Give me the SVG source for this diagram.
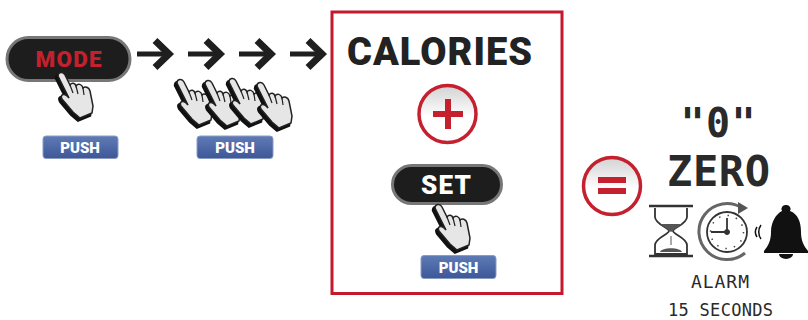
<svg xmlns="http://www.w3.org/2000/svg" xmlns:xlink="http://www.w3.org/1999/xlink" width="808" height="320" viewBox="0 0 808 320">
<style>
.pill{fill:#1d1d1d;stroke:#777;stroke-width:3}
.t{font-family:Roboto,"Liberation Sans",sans-serif;font-weight:900;text-anchor:middle}
.lcd{font-family:"DejaVu Sans Mono","Liberation Mono",monospace;fill:#2a2a2a;text-anchor:middle}
.badge{fill:url(#blue);stroke:#8a9cc4;stroke-width:1}
.pt{font-family:Roboto,"Liberation Sans",sans-serif;font-weight:900;font-size:15px;fill:#fff;text-anchor:middle}
.arrow{fill:none;stroke:#1f1f1f;stroke-width:5}
.disc{fill:url(#disc);stroke:#c4202e;stroke-width:3.5}
.red{fill:#c4202e}
</style>
<defs>
<linearGradient id="blue" x1="0" y1="0" x2="0" y2="1"><stop offset="0" stop-color="#5f7bb5"/><stop offset="1" stop-color="#3d5798"/></linearGradient>
<linearGradient id="disc" x1="0" y1="0" x2="0" y2="1"><stop offset="0" stop-color="#d2d2d2"/><stop offset=".55" stop-color="#fff"/></linearGradient>
<g id="hand">
<path d="M0,3C0,-1 5,-2 7,2L12,12C14,9 17,10 18,13C20,10 24,11 25,15C27,13 31,14 32,18L35,33L34,40L22,45L15,39L4,26C2,22 5,20 9,23L11,25Z" fill="#111" stroke="#111" stroke-width="2.500" transform="translate(-2,2.500)"/>
<path d="M0,3C0,-1 5,-2 7,2L12,12C14,9 17,10 18,13C20,10 24,11 25,15C27,13 31,14 32,18L35,33L34,40L22,45L15,39L4,26C2,22 5,20 9,23L11,25Z" fill="#e6e6e6" stroke="#222" stroke-width="1.500"/>
<path d="M12,12L15,20M18,13L20,21M25,15L26,22" fill="none" stroke="#222" stroke-width="1.200"/>
</g>
<g id="arr"><path class="arrow" d="M0,15.500H33"/><path d="M18,2L32,15.500L18,29" fill="none" stroke="#1f1f1f" stroke-width="7"/></g>
</defs>
<rect width="808" height="320" fill="#fff"/>
<g id="connectors">
<use xlink:href="#arr" href="#arr" x="137" y="38.500"/>
<use xlink:href="#arr" href="#arr" x="188" y="38.500"/>
<use xlink:href="#arr" href="#arr" x="239" y="38.500"/>
<use xlink:href="#arr" href="#arr" x="290" y="38.500"/>
</g>
<g id="mode">
<rect class="pill" x="7" y="37.500" width="123" height="43" rx="21.500"/>
<text class="t" x="68.500" y="67" font-size="22.500" fill="#c4202e" textLength="66" lengthAdjust="spacing">MODE</text>
<use xlink:href="#hand" href="#hand" x="58" y="73"/>
</g>
<g id="push1"><rect class="badge" x="43" y="136" width="75" height="22.500" rx="3"/><text class="pt" x="80" y="153">PUSH</text></g>
<g id="hands">
<use xlink:href="#hand" href="#hand" x="177" y="80"/>
<use xlink:href="#hand" href="#hand" x="205" y="81"/>
<use xlink:href="#hand" href="#hand" x="229" y="79"/>
<use xlink:href="#hand" href="#hand" x="257" y="83"/>
</g>
<g id="push2"><rect class="badge" x="197" y="136" width="76" height="22.500" rx="3"/><text class="pt" x="235" y="153">PUSH</text></g>
<g id="calories-box">
<rect x="332" y="12" width="230" height="281.500" fill="#fff" stroke="#c4182c" stroke-width="3"/>
<text class="t" x="439.500" y="65" font-size="38" fill="#222" textLength="185" lengthAdjust="spacing">CALORIES</text>
</g>
<g id="plus">
<circle class="disc" cx="447.500" cy="114" r="28.500"/>
<rect class="red" x="433" y="111" width="30" height="6"/><rect class="red" x="445" y="99" width="6" height="30"/>
</g>
<g id="set">
<rect class="pill" x="392.500" y="165.500" width="109" height="38" rx="19"/>
<text class="t" x="446" y="194" font-size="26" fill="#fff" textLength="50" lengthAdjust="spacing">SET</text>
<use xlink:href="#hand" href="#hand" x="435" y="205"/>
</g>
<g id="push3"><rect class="badge" x="421" y="255.500" width="75" height="23" rx="3"/><text class="pt" x="458.500" y="273">PUSH</text></g>
<g id="equals">
<circle class="disc" cx="612" cy="186" r="28.500"/>
<rect class="red" x="598" y="177" width="28" height="6"/><rect class="red" x="598" y="188" width="28" height="6"/>
</g>
<g id="zero">
<text class="lcd" x="718" y="137" font-size="40" font-weight="700" textLength="75" lengthAdjust="spacing">"0"</text>
<text class="lcd" x="718.500" y="186" font-size="42" font-weight="700" textLength="103" lengthAdjust="spacing">ZERO</text>
</g>
<g id="hourglass" fill="none" stroke="#333">
<path d="M649,206H693M649,256H693" stroke-width="2.500"/>
<path d="M655,208V217C655,224 669,228 669,231C669,234 655,238 655,245V254H687V245C687,238 673,234 673,231C673,228 687,224 687,217V208" stroke-width="1.800"/>
<path d="M660,224H682L671,232ZM670.500,236H671.500V245H670.500ZM660,252C662,247 680,247 682,252Z" fill="#555" stroke="none"/>
</g>
<g id="clock" fill="none" stroke="#333">
<path d="M742,208A28,28 0 1 0 745,253" stroke="#666" stroke-width="3"/>
<path d="M738,202L748,208L738,214Z" fill="#555" stroke="none"/>
<circle cx="727" cy="232" r="20" stroke-width="1.800" fill="#fff"/>
<circle cx="727" cy="232" r="16.500" stroke-width="1.500" stroke-dasharray="1.500 7.140" stroke="#444"/>
<path d="M727,232H711M727,232V218" stroke-width="1.800"/>
<circle cx="727" cy="232" r="2.500" fill="#333"/>
</g>
<g id="bell" fill="#111">
<path d="M786,205a4,4 0 0 1 4,6C798,214 801,222 801,232C801,241 804,246 808,251V253H764V251C768,246 771,241 771,232C771,222 776,214 782,211a4,4 0 0 1 4,-6Z"/>
<path d="M779,254a7,5 0 0 0 14,0Z"/>
<path d="M761,225C758,229 758,235 761,239M757,227C755,230 755,234 757,237" fill="none" stroke="#111" stroke-width="1.500"/>
</g>
<g id="alarm">
<text class="lcd" x="720" y="288" font-size="18" textLength="58" lengthAdjust="spacing">ALARM</text>
<text class="lcd" x="720.500" y="316" font-size="17" textLength="105" lengthAdjust="spacing">15 SECONDS</text>
</g>
</svg>
